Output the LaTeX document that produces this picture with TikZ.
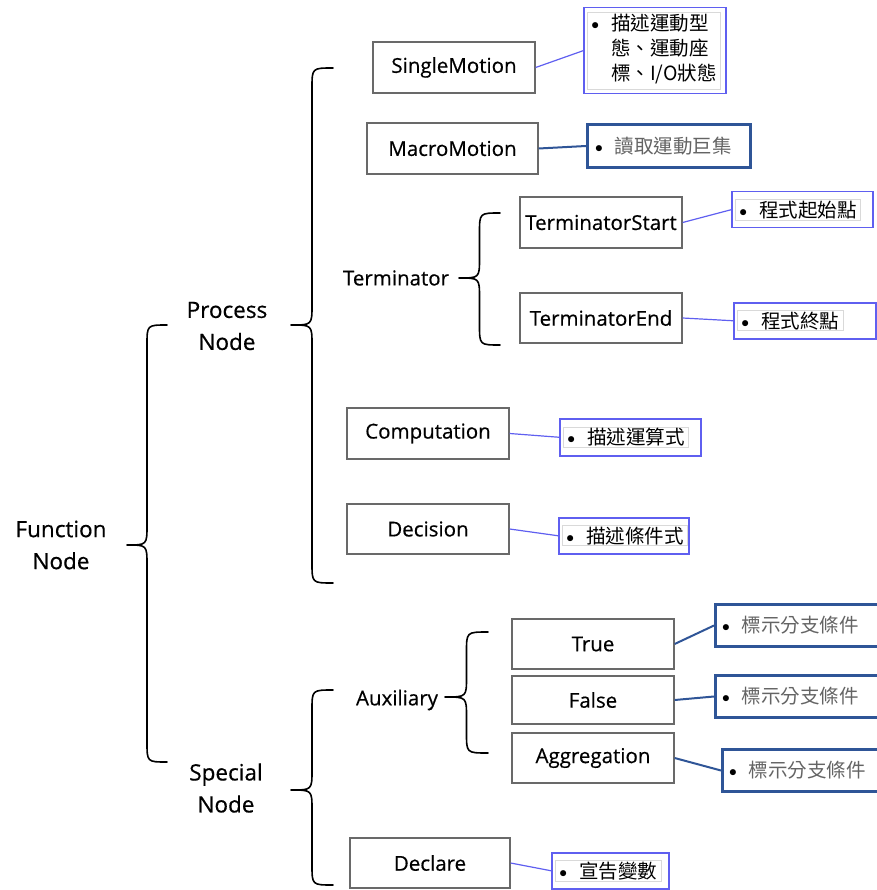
\documentclass[tikz,border=0pt]{standalone}
\usepackage{fontspec}
\setmainfont[FakeBold=0.5]{Open Sans}
\newfontfamily\cjk{Noto Sans CJK TC}

\definecolor{boxgray}{RGB}{105,105,105}
\definecolor{lblue}{RGB}{95,95,240}
\definecolor{dblue}{RGB}{47,85,151}
\definecolor{notegray}{RGB}{100,100,100}

% left curly brace: tip x, tip y, end x, top y, bottom y
\newcommand\lbrc[5]{%
  \draw[brace] (#3,#4) .. controls ({(#1+#3)/2},#4) .. ({(#1+#3)/2},#4+20)
    -- ({(#1+#3)/2},#2-20) .. controls ({(#1+#3)/2},#2) .. (#1,#2)
    .. controls ({(#1+#3)/2},#2) .. ({(#1+#3)/2},#2+20)
    -- ({(#1+#3)/2},#5-20) .. controls ({(#1+#3)/2},#5) .. (#3,#5);}

% list bullet of the notes
\newcommand\notedot{\textcolor{black}{\raisebox{1pt}{\scalebox{0.75}{$\bullet$}}}}
\newcommand\bul{\notedot\hspace{12pt}}

\begin{document}
\begin{tikzpicture}[x=1pt,y=-1pt,
  box/.style={draw=boxgray, line width=1.3pt, minimum width=162, minimum height=51,
    inner sep=0pt, font=\fontsize{20.5}{24}\selectfont},
  label/.style={align=center, font=\fontsize{22.5}{32}\selectfont},
  sublabel/.style={font=\fontsize{20.5}{24}\selectfont},
  brace/.style={line width=1.6pt, line join=round, line cap=round},
  lnote/.style={draw=lblue, line width=1.5pt, anchor=north west, inner sep=0pt},
  dnote/.style={draw=dblue, line width=3pt, anchor=north west, inner sep=0pt},
  ltxt/.style={draw=black!15, line width=0.6pt, anchor=west, inner xsep=4pt, inner ysep=1pt,
    align=left, font=\cjk\fontsize{19.5}{25}\selectfont},
  dtxt/.style={anchor=west, inner xsep=4pt, inner ysep=1pt, text=notegray,
    align=left, font=\cjk\fontsize{19.5}{25}\selectfont},
  lcon/.style={draw=lblue, line width=1.2pt},
  dcon/.style={draw=dblue, line width=2pt}]
\useasboundingbox (0,0) rectangle (876,890);

% labels of the tree levels
\node[label] (func) at (61,545) {Function\\Node};
\node[label] (proc) at (227,326) {Process\\Node};
\node[label] (spec) at (226,788) {Special\\Node};
\node[sublabel] (term) at (396,278) {Terminator};
\node[sublabel] (aux) at (397,700) {Auxiliary};

% braces
\lbrc{127}{545}{167}{325}{762}
\lbrc{291}{325}{333}{68}{583}
\lbrc{291}{790}{333}{690}{885}
\lbrc{459}{278}{500}{213}{345}
\lbrc{445}{697}{488}{632}{753}

% node type boxes
\node[box] (single) at (454,67.5) {SingleMotion};
\node[box, minimum width=171] (macro) at (452.5,148.5) {MacroMotion};
\node[box] (tstart) at (601,222.5) {TerminatorStart};
\node[box, minimum height=50] (tend) at (601,318) {TerminatorEnd};
\node[box] (comp) at (428,433.5) {Computation};
\node[box, minimum height=50] (dec) at (428,529) {Decision};
\node[box, minimum height=50] (true) at (593,644) {True};
\node[box, minimum height=48] (false) at (593,700) {False};
\node[box, minimum height=50] (aggr) at (593,758) {Aggregation};
\node[box, minimum width=160, minimum height=50] (decl) at (430,863) {Declare};

% description notes
\node[lnote, minimum width=142, minimum height=86] (n1) at (583,7) {};
\node[ltxt] (t1) at ([xshift=4pt]n1.west)
  {\begin{tabular}{@{}l@{\hspace{12pt}}l@{}}\notedot & 描述運動型\\ & 態、運動座\\ & 標、I/O狀態\end{tabular}};

\node[dnote, minimum width=163, minimum height=43] (n2) at (586,123) {};
\node[dtxt] (t2) at ([xshift=5pt]n2.west) {\bul 讀取運動巨集};

\node[lnote, minimum width=141, minimum height=36] (n3) at (731,191) {};
\node[ltxt] (t3) at ([xshift=4pt]n3.west) {\bul 程式起始點};

\node[lnote, minimum width=142, minimum height=36] (n4) at (733,302) {};
\node[ltxt] (t4) at ([xshift=4pt]n4.west) {\bul 程式終點};

\node[lnote, minimum width=141, minimum height=37] (n5) at (559,418) {};
\node[ltxt] (t5) at ([xshift=4pt]n5.west) {\bul 描述運算式};

\node[lnote, minimum width=130, minimum height=36] (n6) at (558,517) {};
\node[ltxt] (t6) at ([xshift=4pt]n6.west) {\bul 描述條件式};

\node[dnote, minimum width=166, minimum height=42] (n7) at (714,603) {};
\node[dtxt] (t7) at ([xshift=4pt]n7.west) {\bul 標示分支條件};

\node[dnote, minimum width=166, minimum height=42] (n8) at (714,674) {};
\node[dtxt] (t8) at ([xshift=4pt]n8.west) {\bul 標示分支條件};

\node[dnote, minimum width=159, minimum height=42] (n9) at (721,748) {};
\node[dtxt] (t9) at ([xshift=4pt]n9.west) {\bul 標示分支條件};

\node[lnote, minimum width=117, minimum height=36] (n10) at (551,852) {};
\node[ltxt] (t10) at ([xshift=4pt]n10.west) {\bul 宣告變數};

% connectors from boxes to notes
\draw[lcon] (single.east) -- (n1.west);
\draw[dcon] (macro.east) -- (n2.west);
\draw[lcon] (tstart.east) -- (n3.west);
\draw[lcon] (tend.east) -- (n4.west);
\draw[lcon] (comp.east) -- (n5.west);
\draw[lcon] (dec.east) -- (n6.west);
\draw[dcon] (true.east) -- (n7.west);
\draw[dcon] (false.east) -- (n8.west);
\draw[dcon] (aggr.east) -- (n9.west);
\draw[lcon] (decl.east) -- (n10.west);
\end{tikzpicture}
\end{document}
